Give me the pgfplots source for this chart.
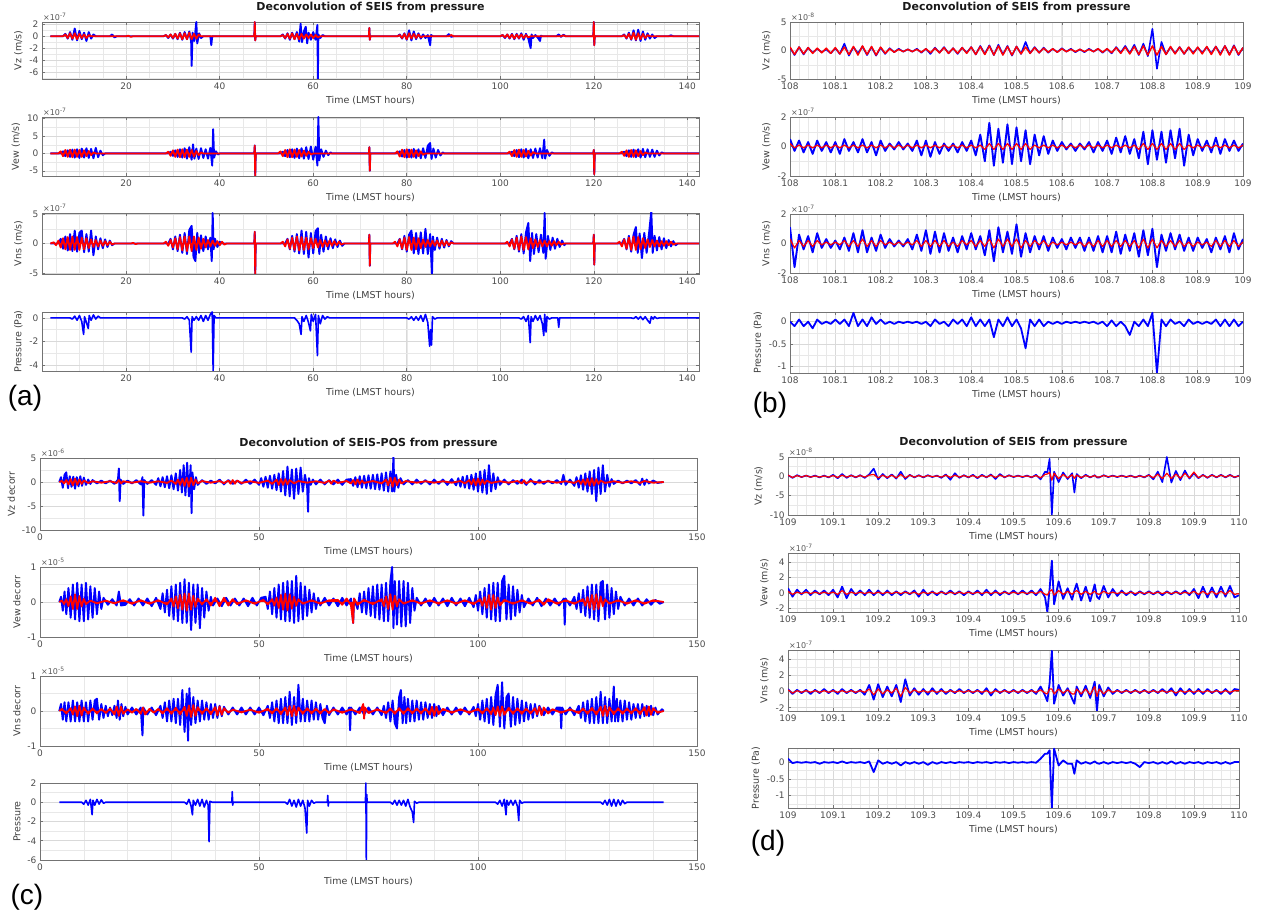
\documentclass[border=0pt]{standalone}
\usepackage{fontspec}
\setmainfont{DejaVu Sans}
\newfontfamily\lab{Liberation Sans}
\usepackage{pgfplots}
\pgfplotsset{compat=1.18}
\usepackage{pgfplotstable}

\pgfplotstableread{
t vzb vewb vnsb pb vzr vewr vnsr
108.00 0.5 0.5 1.1 0.0 0.6 0.2 0.3
108.01 -0.8 -0.3 -1.6 -0.1 -0.7 -0.1 -0.3
108.02 0.6 0.4 0.6 0.05 0.6 0.1 0.2
108.03 -0.7 -0.4 -0.4 -0.1 -0.6 -0.1 -0.2
108.04 0.5 0.3 0.5 0.0 0.5 0.1 0.2
108.05 -0.4 -0.5 -0.6 -0.15 -0.5 -0.1 -0.2
108.06 0.3 0.4 0.7 0.05 0.4 0.1 0.2
108.07 -0.3 -0.3 -0.3 -0.05 -0.4 -0.1 -0.1
108.08 0.2 0.3 0.3 0.0 0.4 0.1 0.1
108.09 -0.5 -0.4 -0.3 -0.05 -0.5 -0.1 -0.1
108.10 0.4 0.3 0.2 0.05 0.5 0.1 0.1
108.11 -0.6 -0.5 -0.4 -0.05 -0.6 -0.1 -0.1
108.12 1.2 0.5 0.4 0.05 0.6 0.1 0.2
108.13 -0.9 -0.3 -0.5 -0.1 -0.7 -0.1 -0.2
108.14 0.6 0.3 0.7 0.2 0.7 0.1 0.2
108.15 -0.5 -0.4 -0.6 -0.1 -0.8 -0.1 -0.2
108.16 0.7 0.5 0.9 0.05 0.8 0.1 0.3
108.17 -0.8 -0.4 -0.6 -0.1 -0.7 -0.1 -0.2
108.18 0.6 0.3 0.4 0.1 0.7 0.1 0.2
108.19 -0.9 -0.6 -0.5 -0.05 -0.8 -0.1 -0.2
108.20 0.5 0.4 0.6 0.05 0.6 0.1 0.2
108.21 -0.6 -0.3 -0.3 -0.05 -0.5 -0.1 -0.1
108.22 0.4 0.2 0.3 0.0 0.3 0.1 0.1
108.23 -0.3 -0.2 -0.2 -0.05 -0.3 -0.1 -0.1
108.24 0.3 0.3 0.2 0.0 0.2 0.1 0.1
108.25 -0.2 -0.2 -0.2 -0.03 -0.2 -0.1 -0.1
108.26 0.2 0.2 0.3 0.0 0.2 0.1 0.1
108.27 -0.2 -0.3 -0.4 -0.03 -0.2 -0.1 -0.1
108.28 0.3 0.4 0.6 0.0 0.2 0.1 0.2
108.29 -0.4 -0.6 -0.5 -0.05 -0.3 -0.1 -0.2
108.30 0.3 0.4 0.9 0.0 0.3 0.1 0.2
108.31 -0.6 -0.7 -0.7 -0.1 -0.4 -0.1 -0.2
108.32 0.5 0.3 0.8 0.05 0.4 0.1 0.2
108.33 -0.4 -0.5 -0.6 -0.05 -0.4 -0.1 -0.2
108.34 0.6 0.2 0.7 0.0 0.5 0.1 0.2
108.35 -0.5 -0.3 -0.5 -0.1 -0.5 -0.1 -0.2
108.36 0.4 0.2 0.4 0.05 0.4 0.1 0.1
108.37 -0.6 -0.4 -0.6 -0.05 -0.5 -0.1 -0.2
108.38 0.5 0.3 0.5 0.05 0.5 0.1 0.2
108.39 -0.4 -0.3 -0.4 -0.1 -0.5 -0.1 -0.1
108.40 0.6 0.4 0.7 0.1 0.6 0.1 0.2
108.41 -0.7 -0.6 -0.4 -0.1 -0.7 -0.1 -0.2
108.42 0.8 0.8 0.5 0.05 0.7 0.1 0.2
108.43 -0.6 -1.0 -0.8 -0.1 -0.7 -0.2 -0.2
108.44 0.9 1.6 0.9 0.05 0.8 0.2 0.3
108.45 -0.8 -1.3 -1.2 -0.35 -0.8 -0.2 -0.3
108.46 1.0 1.2 1.1 0.05 0.8 0.2 0.3
108.47 -0.7 -1.1 -0.6 -0.1 -0.8 -0.2 -0.2
108.48 0.8 1.5 0.8 0.1 0.7 0.2 0.3
108.49 -0.9 -1.2 -0.7 -0.1 -0.8 -0.2 -0.2
108.50 0.7 1.3 1.3 0.05 0.7 0.2 0.3
108.51 -0.6 -1.0 -0.9 -0.15 -0.6 -0.2 -0.3
108.52 1.5 1.1 0.7 -0.6 0.6 0.2 0.2
108.53 -0.5 -1.2 -0.6 0.05 -0.5 -0.2 -0.2
108.54 0.6 0.8 0.5 -0.1 0.5 0.1 0.2
108.55 -0.4 -0.6 -0.4 0.05 -0.4 -0.1 -0.1
108.56 0.5 0.7 0.5 -0.1 0.4 0.1 0.2
108.57 -0.4 -0.5 -0.5 0.0 -0.3 -0.1 -0.2
108.58 0.3 0.4 0.4 -0.05 0.3 0.1 0.1
108.59 -0.3 -0.3 -0.3 0.0 -0.3 -0.1 -0.1
108.60 0.4 0.3 0.3 -0.05 0.3 0.1 0.1
108.61 -0.2 -0.2 -0.4 0.0 -0.2 -0.1 -0.1
108.62 0.3 0.2 0.4 -0.03 0.2 0.1 0.1
108.63 -0.3 -0.3 -0.3 0.0 -0.2 -0.1 -0.1
108.64 0.2 0.2 0.4 -0.03 0.2 0.1 0.1
108.65 -0.3 -0.2 -0.5 0.0 -0.2 -0.1 -0.2
108.66 0.3 0.3 0.4 -0.03 0.2 0.1 0.1
108.67 -0.2 -0.4 -0.5 0.0 -0.2 -0.1 -0.2
108.68 0.3 0.3 0.5 -0.05 0.3 0.1 0.2
108.69 -0.4 -0.3 -0.6 0.0 -0.3 -0.1 -0.2
108.70 0.3 0.4 0.5 -0.1 0.3 0.1 0.2
108.71 -0.5 -0.5 -0.6 0.03 -0.4 -0.1 -0.2
108.72 0.6 0.6 0.8 -0.1 0.5 0.1 0.2
108.73 -0.4 -0.4 -0.7 0.0 -0.5 -0.1 -0.2
108.74 0.8 0.7 0.6 -0.1 0.6 0.1 0.2
108.75 -0.5 -0.5 -0.5 -0.3 -0.6 -0.1 -0.2
108.76 1.0 0.5 0.7 0.0 0.7 0.1 0.2
108.77 -0.8 -0.8 -0.9 -0.1 -0.7 -0.2 -0.3
108.78 1.2 1.0 0.9 0.05 0.8 0.2 0.3
108.79 -1.0 -1.2 -0.8 -0.1 -0.8 -0.2 -0.3
108.80 3.8 1.1 1.0 0.2 0.8 0.2 0.3
108.81 -3.2 -0.9 -1.6 -1.16 -0.8 -0.2 -0.3
108.82 1.5 1.0 0.6 0.05 0.7 0.2 0.2
108.83 -0.7 -1.1 -0.5 -0.1 -0.7 -0.2 -0.2
108.84 0.6 1.1 0.7 0.05 0.7 0.2 0.2
108.85 -0.5 -0.8 -0.4 -0.05 -0.6 -0.2 -0.2
108.86 0.6 1.2 0.6 0.0 0.6 0.2 0.2
108.87 -0.6 -1.3 -0.5 -0.1 -0.6 -0.2 -0.2
108.88 0.5 0.8 0.4 0.05 0.6 0.1 0.1
108.89 -0.4 -0.6 -0.5 -0.05 -0.6 -0.1 -0.2
108.90 0.5 0.5 0.4 0.0 0.6 0.1 0.1
108.91 -0.4 -0.3 -0.3 -0.05 -0.6 -0.1 -0.1
108.92 0.6 0.4 0.3 0.0 0.7 0.1 0.1
108.93 -0.5 -0.4 -0.6 -0.05 -0.7 -0.1 -0.2
108.94 0.7 0.6 0.4 0.05 0.7 0.1 0.2
108.95 -0.6 -0.5 -0.4 -0.1 -0.8 -0.1 -0.2
108.96 0.8 0.5 0.5 0.05 0.8 0.1 0.2
108.97 -0.7 -0.3 -0.6 -0.1 -0.8 -0.1 -0.2
108.98 0.9 0.4 0.7 0.05 0.8 0.1 0.2
108.99 -0.8 -0.3 -0.4 -0.1 -0.7 -0.1 -0.2
109.00 0.5 0.2 0.3 0.0 0.5 0.1 0.1
}\tabB

\pgfplotstableread{
t vzb vewb vnsb pb vzr vewr vnsr
109.00 0.3 0.6 0.3 0.1 0.3 0.2 0.2
109.01 -0.4 -0.5 -0.3 -0.03 -0.3 -0.2 -0.2
109.02 0.3 0.4 0.2 0.0 0.2 0.1 0.1
109.03 -0.2 -0.2 -0.2 -0.02 -0.2 -0.1 -0.1
109.04 0.2 0.4 0.2 0.0 0.2 0.1 0.1
109.05 -0.2 -0.3 -0.3 -0.02 -0.2 -0.1 -0.1
109.06 0.2 0.3 0.2 0.0 0.1 0.1 0.1
109.07 -0.3 -0.2 -0.2 -0.05 -0.2 -0.1 -0.1
109.08 0.2 0.3 0.3 0.0 0.1 0.1 0.1
109.09 -0.3 -0.3 -0.2 -0.02 -0.2 -0.1 -0.1
109.10 0.4 0.4 0.2 0.0 0.2 0.1 0.1
109.11 -0.5 -0.6 -0.3 -0.03 -0.3 -0.2 -0.1
109.12 0.6 0.8 0.3 0.02 0.3 0.3 0.1
109.13 -0.4 -0.7 -0.2 -0.03 -0.2 -0.2 -0.1
109.14 0.3 0.5 0.2 0.0 0.2 0.1 0.1
109.15 -0.3 -0.3 -0.2 -0.02 -0.2 -0.1 -0.1
109.16 0.3 0.3 0.2 0.0 0.2 0.1 0.1
109.17 -0.4 -0.3 -0.4 -0.03 -0.2 -0.1 -0.1
109.18 0.5 0.4 0.8 0.02 0.3 0.1 0.3
109.19 2.0 -0.3 -1.0 -0.3 0.5 -0.1 -0.4
109.20 -0.8 0.3 0.9 0.05 -0.4 0.1 0.3
109.21 0.6 -0.3 -0.7 -0.05 0.3 -0.1 -0.3
109.22 -0.5 0.3 0.6 0.0 -0.3 0.1 0.2
109.23 0.5 -0.3 -0.6 -0.05 0.3 -0.1 -0.2
109.24 -0.6 0.2 0.8 0.0 -0.4 0.1 0.4
109.25 1.2 -0.3 -1.3 -0.1 0.5 -0.1 -0.6
109.26 -0.7 0.2 1.5 0.0 -0.4 0.1 0.5
109.27 0.4 -0.2 -0.5 -0.05 0.3 -0.1 -0.2
109.28 -0.3 0.3 0.4 0.0 -0.2 0.1 0.2
109.29 0.3 -0.5 -0.4 -0.05 0.2 -0.2 -0.1
109.30 -0.3 0.4 0.3 0.0 -0.2 0.1 0.1
109.31 0.3 -0.3 -0.4 -0.08 0.2 -0.1 -0.1
109.32 -0.2 0.2 0.4 0.0 -0.1 0.1 0.1
109.33 0.2 -0.3 -0.3 -0.05 0.1 -0.1 -0.1
109.34 -0.4 0.2 0.3 0.0 -0.2 0.1 0.1
109.35 0.5 -0.2 -0.3 -0.03 0.3 -0.1 -0.1
109.36 -0.9 0.3 0.2 0.0 -0.3 0.1 0.1
109.37 0.8 -0.2 -0.2 -0.03 0.3 -0.1 -0.1
109.38 -0.4 0.2 0.3 0.0 -0.2 0.1 0.1
109.39 0.3 -0.3 -0.2 -0.02 0.2 -0.1 -0.1
109.40 -0.3 0.2 0.2 0.0 -0.2 0.1 0.1
109.41 0.4 -0.2 -0.2 -0.03 0.2 -0.1 -0.1
109.42 -0.5 0.3 0.2 0.0 -0.3 0.1 0.1
109.43 0.4 -0.3 -0.3 -0.02 0.2 -0.1 -0.1
109.44 -0.3 0.4 0.4 0.0 -0.2 0.1 0.1
109.45 0.5 -0.3 -0.5 -0.03 0.3 -0.1 -0.2
109.46 -0.7 0.3 0.3 0.0 -0.3 0.1 0.1
109.47 0.6 -0.3 -0.2 -0.02 0.3 -0.1 -0.1
109.48 -0.3 0.2 0.2 0.0 -0.2 0.1 0.1
109.49 0.3 -0.2 -0.2 -0.03 0.2 -0.1 -0.1
109.50 -0.2 0.3 0.2 0.0 -0.1 0.1 0.1
109.51 0.2 -0.2 -0.2 -0.02 0.1 -0.1 -0.1
109.52 -0.2 0.3 0.2 0.0 -0.1 0.1 0.1
109.53 0.2 -0.2 -0.2 -0.02 0.1 -0.1 -0.1
109.54 -0.3 0.3 0.2 0.0 -0.2 0.1 0.1
109.55 0.4 -0.3 -0.3 -0.02 0.2 -0.1 -0.1
109.56 -0.8 0.5 0.6 0.1 -0.4 0.2 0.2
109.57 1.2 -0.6 -0.5 0.25 0.5 -0.2 -0.2
109.575 1.0 -2.5 -1.2 0.25 0.6 -0.3 -0.3
109.58 4.5 0.5 1.0 0.35 1.0 0.2 0.3
109.585 -10 4.2 5 -1.37 -1.0 0.4 0.3
109.59 1.2 -1.5 -1.5 0.4 0.8 -0.3 -0.3
109.60 -1.5 1.5 0.8 -0.1 -0.6 0.3 0.3
109.61 1.0 -0.8 -0.5 0.05 0.5 -0.2 -0.2
109.62 -0.7 0.6 0.4 -0.05 -0.4 0.2 0.2
109.63 0.8 -0.9 -0.9 -0.05 0.4 -0.2 -0.3
109.635 -4.2 0.3 -1.5 -0.35 -0.5 0.1 -0.3
109.64 0.6 1.2 0.6 0.05 0.3 0.3 0.3
109.65 -0.5 -1.0 -0.6 -0.05 -0.3 -0.2 -0.3
109.66 0.4 0.8 0.7 0.0 0.2 0.2 0.3
109.67 -0.3 -1.1 -0.8 -0.05 -0.2 -0.2 -0.4
109.68 0.3 1.1 1.2 0.02 0.2 0.2 0.6
109.685 -0.3 -0.5 -2.4 -0.03 -0.2 -0.1 -0.6
109.69 -0.3 -0.8 0.8 -0.05 -0.2 -0.2 0.3
109.70 0.3 0.9 -0.6 0.0 0.2 0.2 -0.3
109.71 -0.2 -0.6 0.5 -0.05 -0.1 -0.1 0.2
109.72 0.2 0.5 -0.3 0.0 0.1 0.1 -0.1
109.73 -0.2 -0.4 0.2 -0.03 -0.1 -0.1 0.1
109.74 0.2 0.3 -0.2 0.0 0.1 0.1 -0.1
109.75 -0.2 -0.3 0.2 -0.03 -0.1 -0.1 0.1
109.76 0.2 0.2 -0.2 0.0 0.1 0.1 -0.1
109.77 -0.3 -0.3 0.2 -0.05 -0.2 -0.1 0.1
109.78 0.2 0.2 -0.2 -0.15 0.1 0.1 -0.1
109.79 -0.3 -0.2 0.2 0.0 -0.2 -0.1 0.1
109.80 0.4 0.2 -0.2 -0.03 0.3 0.1 -0.1
109.81 -0.8 -0.2 0.2 0.0 -0.4 -0.1 0.1
109.82 1.2 0.2 -0.2 -0.05 0.6 0.1 -0.1
109.83 -1.5 -0.3 0.3 0.0 -0.6 -0.1 0.1
109.84 5.0 0.2 -0.2 -0.05 0.8 0.1 -0.1
109.85 -1.6 -0.2 0.4 0.02 -0.6 -0.1 0.1
109.86 1.4 0.2 -0.5 -0.05 0.6 0.1 -0.2
109.87 -1.0 -0.2 0.4 0.0 -0.5 -0.1 0.1
109.88 1.5 0.3 -0.3 -0.05 0.8 0.1 -0.1
109.89 -0.6 -0.3 0.3 0.0 -0.4 -0.1 0.1
109.90 0.8 0.5 -0.3 -0.03 1.1 0.2 -0.1
109.91 -0.5 -0.7 0.3 0.0 -0.4 -0.2 0.1
109.92 0.4 0.8 -0.3 -0.05 0.3 0.2 -0.1
109.93 -0.4 -0.6 0.3 0.0 -0.3 -0.2 0.1
109.94 0.4 0.7 -0.2 -0.03 0.3 0.2 -0.1
109.95 -0.3 -0.6 0.2 0.0 -0.2 -0.2 0.1
109.96 0.4 0.8 -0.3 -0.05 0.3 0.2 -0.1
109.97 -0.3 -0.5 0.3 0.0 -0.2 -0.2 0.1
109.98 0.4 0.9 -0.3 -0.05 0.3 0.3 -0.1
109.99 -0.3 -0.6 0.3 0.0 -0.2 -0.2 0.1
110.00 0.2 -0.3 0.2 0.0 0.1 -0.1 0.1
}\tabD

\pgfplotsset{
 ax/.style={
   scale only axis, anchor=south west,
   axis line style={black!55, line width=0.6pt},
   tick style={black!55, line width=0.5pt},
   major tick length=3pt, minor tick length=0pt,
   tick align=inside,
   grid=both,
   major grid style={black!15, line width=0.5pt},
   minor grid style={black!9, line width=0.4pt},
   ticklabel style={font=\fontsize{9}{9}\selectfont, text=black!70},
   label style={font=\fontsize{9.5}{10}\selectfont, text=black!75},
   title style={font=\bfseries\fontsize{11}{12}\selectfont, text=black!90},
   xlabel={Time (LMST hours)},
   scaled ticks=false,
   clip mode=individual,
 },
 pa/.style={ax, width=657pt, xmin=2, xmax=142.5,
   xtick={20,40,60,80,100,120,140}, xticklabels={20,40,60,80,100,120,140},
   minor xtick={5,10,...,140}},
 pc/.style={ax, width=657pt, xmin=0, xmax=150,
   xtick={0,50,100,150}, xticklabels={0,50,100,150},
   minor xtick={10,20,30,40,60,70,80,90,110,120,130,140}},
 pb/.style={ax, width=453pt, xmin=108, xmax=109,
   xtick={108,108.1,108.2,108.3,108.4,108.5,108.6,108.7,108.8,108.9,109},
   xticklabels={108,108.1,108.2,108.3,108.4,108.5,108.6,108.7,108.8,108.9,109},
   minor xtick={108.02,108.04,...,108.99}},
 pd/.style={ax, width=451pt, xmin=109, xmax=110,
   xtick={109,109.1,109.2,109.3,109.4,109.5,109.6,109.7,109.8,109.9,110},
   xticklabels={109,109.1,109.2,109.3,109.4,109.5,109.6,109.7,109.8,109.9,110},
   minor xtick={109.02,109.04,...,109.99}},
 bl/.style={blue, fill=blue, line width=1.9pt, line join=round},
 rd/.style={red, fill=red, line width=1.8pt, line join=round},
 blt/.style={blue, line width=1.6pt, line join=round},
 rdt/.style={red, line width=1.2pt, line join=round},
}
\newcommand{\expo}[2]{\node[anchor=south west, inner sep=1pt, font=\fontsize{8}{8}\selectfont, text=black!65] at (#1.north west) {×10\raisebox{0.7ex}{\fontsize{6}{6}\selectfont #2}};}

\begin{document}
\begin{tikzpicture}
\path[use as bounding box] (0,0) rectangle (1268pt,917pt);

% ================= PANEL (a) =================
\begin{axis}[pa, name=a1, at={(42pt,838pt)}, height=57pt,
  ymin=-7.2, ymax=2.4, ytick={-6,-4,-2,0,2}, yticklabels={-6,-4,-2,0,2},
  minor ytick={-7,-5,-3,-1,1}, ylabel={Vz (m/s)},
  title={Deconvolution of SEIS from pressure}]
\addplot[bl] coordinates {(3.8,0)(6.5,0)(7,0.4)(7.5,-0.4)(8,0.7)(8.5,-0.6)(9,1.3)(9.5,-0.7)(10,0.9)(10.5,-0.5)(11,0.6)(11.5,-0.8)(12,0.7)(12.5,-0.4)(13,0.3)(13.5,0)(16.5,0)(17,0.3)(17.5,-0.2)(18,0)(28,0)(28.5,0.2)(29,-0.3)(29.5,0.3)(30,-0.4)(30.5,0.4)(31,-0.5)(31.5,0.6)(32,-0.6)(32.5,0.7)(33,-0.5)(33.5,0.8)(33.9,-0.9)(34,-5)(34.2,0.6)(34.6,-0.8)(35,2.4)(35.2,-1.2)(35.6,0.5)(36,-0.3)(36.5,0)(38,0)(38.2,-1.5)(38.4,0)(47.4,0)(47.5,2.4)(47.6,-0.7)(47.7,0)(53,0)(53.5,0.3)(54,-0.4)(54.5,0.5)(55,-0.6)(55.5,0.6)(56,-0.5)(56.5,0.7)(57,-0.9)(57.3,2.1)(57.6,-1.0)(58,0.8)(58.4,1.6)(58.7,-1.2)(59,0.6)(59.5,-0.6)(60,0.7)(60.5,-0.6)(60.9,1.9)(61,-7.2)(61.1,0.3)(61.5,-0.3)(62,0.2)(62.5,0)(71.9,0)(72,1.4)(72.1,-0.6)(72.2,0)(78,0)(78.5,0.3)(79,-0.4)(79.5,0.5)(80,-0.6)(80.5,1.0)(81,-0.7)(81.5,0.8)(82,-0.5)(82.5,0.5)(83,-0.4)(83.5,0.3)(84,-0.3)(84.5,0.2)(85,-1.5)(85.2,0.2)(85.6,0)(88.5,0)(89,0.35)(89.5,-0.1)(90,0)(100,0)(100.5,0.2)(101,-0.3)(101.5,0.3)(102,-0.4)(102.5,0.4)(103,-0.5)(103.5,0.4)(104,-0.4)(104.5,0.5)(105,-0.6)(105.5,0.4)(106,-0.4)(106.5,-2.0)(106.7,0.3)(107,-0.3)(107.5,0.2)(108,-0.2)(108.5,-0.8)(108.7,0.1)(109,0)(112,0)(112.5,0.3)(113,-0.1)(113.5,0.25)(114,0)(119.9,0)(120,2.4)(120.1,-1.5)(120.2,0)(126,0)(126.5,0.3)(127,-0.4)(127.5,0.6)(128,-0.6)(128.5,1.0)(129,-0.7)(129.5,1.1)(130,-0.8)(130.5,0.8)(131,-0.6)(131.5,0.5)(132,-0.4)(132.5,0.3)(133,-0.3)(133.5,0)(136,0)(136.5,0.15)(137,0)(142.5,0)};
\addplot[rd] coordinates {(3.8,0)(6.5,0)(7,0.3)(7.5,-0.3)(8,0.5)(8.5,-0.4)(9,0.5)(9.5,-0.5)(10,0.4)(10.5,-0.3)(11,0.3)(11.5,-0.3)(12,0.2)(12.5,0)(20,0)(20.5,0.1)(21,-0.1)(21.5,0)(28,0)(28.5,0.2)(29,-0.2)(29.5,0.3)(30,-0.3)(30.5,0.4)(31,-0.4)(31.5,0.5)(32,-0.5)(32.5,0.5)(33,-0.5)(33.5,0.6)(34,-0.5)(34.5,0.4)(35,-0.4)(35.5,0.3)(36,0)(47.4,0)(47.5,2.4)(47.6,-0.7)(47.7,0)(53,0)(53.5,0.2)(54,-0.3)(54.5,0.4)(55,-0.4)(55.5,0.5)(56,-0.5)(56.5,0.4)(57,-0.5)(57.5,0.4)(58,-0.4)(58.5,0.3)(59,-0.3)(59.5,0.3)(60,-0.3)(60.5,0.2)(61,-0.2)(61.5,0)(71.9,0)(72,1.4)(72.1,-0.6)(72.2,0)(78,0)(78.5,0.2)(79,-0.3)(79.5,0.4)(80,-0.5)(80.5,0.5)(81,-0.4)(81.5,0.4)(82,-0.3)(82.5,0.3)(83,-0.2)(83.5,0)(89,0)(89.5,0.2)(90,0)(100,0)(100.5,0.2)(101,-0.2)(101.5,0.3)(102,-0.3)(102.5,0.3)(103,-0.4)(103.5,0.3)(104,-0.3)(104.5,0.3)(105,-0.3)(105.5,0.2)(106,-0.2)(106.5,0)(113,0)(113.5,0.15)(114,0)(119.9,0)(120,2.4)(120.1,-1.5)(120.2,0)(126,0)(126.5,0.2)(127,-0.3)(127.5,0.4)(128,-0.5)(128.5,0.6)(129,-0.6)(129.5,0.5)(130,-0.5)(130.5,0.4)(131,-0.3)(131.5,0.2)(132,0)(142.5,0)};
\end{axis}

\begin{axis}[pa, name=a2, at={(42pt,741pt)}, height=59pt,
  ymin=-6.5, ymax=10.5, ytick={-5,0,5,10}, yticklabels={-5,0,5,10},
  minor ytick={-2.5,2.5,7.5}, ylabel={Vew (m/s)}]
\addplot[bl] coordinates {(3.8,0)(6,0)(6.5,0.6)(7,-0.8)(7.5,0.9)(8,-1.0)(8.5,1.1)(9,-1.2)(9.5,1.2)(10,-1.3)(10.5,1.4)(11,-1.2)(11.5,1.5)(12,-1.3)(12.5,1.3)(13,-1.4)(13.5,1.6)(14,-1.1)(14.5,0.8)(15,-0.5)(15.5,0)(29,0)(29.5,0.5)(30,-0.7)(30.5,0.9)(31,-1.0)(31.5,1.2)(32,-1.2)(32.5,1.5)(33,-1.5)(33.5,1.8)(34,-1.8)(34.3,2.6)(34.6,-1.5)(35,1.4)(35.5,-1.6)(36,1.5)(36.5,-1.3)(37,1.2)(37.5,-1.5)(38,1.6)(38.4,-3.5)(38.6,7.0)(38.8,-1.2)(39.2,0.6)(39.6,-0.3)(40,0)(47.4,0)(47.5,2.3)(47.6,-6.5)(47.7,0)(53,0)(53.5,0.5)(54,-0.8)(54.5,1.0)(55,-1.1)(55.5,1.2)(56,-1.3)(56.5,1.4)(57,-1.4)(57.5,1.5)(58,-1.5)(58.5,1.8)(59,-1.6)(59.5,2.0)(60,-1.8)(60.5,1.9)(60.9,-3.5)(61.1,10.5)(61.3,-2.0)(61.7,1.2)(62.2,-1.0)(62.7,0.8)(63.2,-0.5)(63.7,0.3)(64,0)(71.9,0)(72,1.8)(72.1,-5)(72.2,0)(78,0)(78.5,0.6)(79,-0.9)(79.5,1.0)(80,-1.2)(80.5,1.1)(81,-1.2)(81.5,1.3)(82,-1.3)(82.5,1.2)(83,-1.4)(83.5,1.5)(84,-1.3)(84.5,2.2)(85,3.0)(85.3,-1.6)(85.7,1.4)(86.2,-1.2)(86.7,1.0)(87.2,-0.6)(87.7,0.3)(88,0)(102,0)(102.5,0.5)(103,-0.8)(103.5,1.0)(104,-1.1)(104.5,1.2)(105,-1.2)(105.5,1.3)(106,-1.4)(106.5,1.2)(107,-1.3)(107.5,1.4)(108,-1.2)(108.5,1.5)(109,-1.4)(109.4,4.0)(109.6,-1.5)(110,1.0)(110.5,-0.7)(111,0.3)(111.5,0)(119.9,0)(120,1.0)(120.1,-6.0)(120.2,0)(126,0)(126.5,0.5)(127,-0.8)(127.5,0.9)(128,-1.0)(128.5,1.1)(129,-1.1)(129.5,1.2)(130,-1.2)(130.5,1.3)(131,-1.1)(131.5,1.2)(132,-1.0)(132.5,1.1)(133,-1.0)(133.5,0.8)(134,-0.6)(134.5,0.3)(135,0)(142.5,0)};
\addplot[rd] coordinates {(3.8,0)(5.5,0)(6,0.6)(6.5,-0.8)(7,1.0)(7.5,-1.0)(8,1.1)(8.5,-1.1)(9,1.1)(9.5,-1.0)(10,1.0)(10.5,-1.0)(11,0.9)(11.5,-0.8)(12,0.7)(12.5,-0.5)(13,0.3)(13.5,0)(28.5,0)(29,0.5)(29.5,-0.7)(30,0.9)(30.5,-1.0)(31,1.1)(31.5,-1.1)(32,1.2)(32.5,-1.1)(33,1.1)(33.5,-1.0)(34,1.0)(34.5,-0.9)(35,0.7)(35.5,-0.5)(36,0.3)(36.5,0)(47.4,0)(47.5,2.3)(47.6,-6.5)(47.7,0)(52.5,0)(53,0.6)(53.5,-0.8)(54,1.0)(54.5,-1.1)(55,1.2)(55.5,-1.1)(56,1.1)(56.5,-1.0)(57,1.0)(57.5,-0.9)(58,0.8)(58.5,-0.7)(59,0.5)(59.5,-0.3)(60,0)(71.9,0)(72,1.8)(72.1,-5)(72.2,0)(77.5,0)(78,0.6)(78.5,-0.9)(79,1.1)(79.5,-1.1)(80,1.2)(80.5,-1.1)(81,1.1)(81.5,-1.0)(82,0.9)(82.5,-0.8)(83,0.6)(83.5,-0.4)(84,0)(101.5,0)(102,0.5)(102.5,-0.8)(103,1.0)(103.5,-1.0)(104,1.1)(104.5,-1.0)(105,1.0)(105.5,-0.9)(106,0.8)(106.5,-0.6)(107,0.4)(107.5,0)(119.9,0)(120,1.0)(120.1,-6.0)(120.2,0)(125.5,0)(126,0.5)(126.5,-0.7)(127,0.9)(127.5,-1.0)(128,1.0)(128.5,-1.0)(129,0.9)(129.5,-0.8)(130,0.7)(130.5,-0.5)(131,0.3)(131.5,0)(142.5,0)};
\end{axis}

\begin{axis}[pa, name=a3, at={(42pt,643pt)}, height=61pt,
  ymin=-5.2, ymax=5.2, ytick={-5,0,5}, yticklabels={-5,0,5},
  minor ytick={-2.5,2.5}, ylabel={Vns (m/s)}]
\addplot[bl] coordinates {(3.8,0)(5.5,0)(6,0.8)(6.5,-0.9)(7,1.2)(7.5,-1.2)(8,1.6)(8.5,-1.3)(9,2.2)(9.5,-1.4)(10,1.8)(10.5,2.2)(11,-1.5)(11.5,1.6)(12,-1.4)(12.5,2.2)(13,-2.0)(13.5,1.2)(14,-1.0)(14.5,0.9)(15,-0.8)(15.5,0.7)(16,-0.6)(16.5,0.5)(17,-0.3)(17.5,0)(29,0)(29.5,0.8)(30,-1.0)(30.5,1.2)(31,-1.3)(31.5,1.5)(32,-1.6)(32.5,1.8)(33,-1.8)(33.5,2.3)(34,3.0)(34.4,-2.3)(34.8,-3.0)(35.2,1.8)(35.6,-1.6)(36,1.4)(36.5,-1.3)(37,1.2)(37.5,-1.0)(38,1.0)(38.3,-3.0)(38.5,5.2)(38.7,-1.0)(39,0.8)(39.5,-0.6)(40,0.3)(40.5,0)(47.4,0)(47.5,2.0)(47.6,-5.2)(47.7,0)(54,0)(54.5,0.8)(55,-1.0)(55.5,1.3)(56,-1.4)(56.5,1.6)(57,-1.7)(57.5,2.2)(58,-1.8)(58.5,2.0)(59,-2.4)(59.5,1.8)(60,-1.7)(60.5,2.1)(61,2.6)(61.3,-1.8)(61.7,1.5)(62.2,-1.4)(62.7,1.2)(63.2,-1.0)(63.7,0.9)(64.2,-0.8)(64.7,0.7)(65.2,-0.6)(65.7,0.5)(66.2,-0.4)(66.7,0)(71.9,0)(72,1.5)(72.1,-3.8)(72.2,0)(78,0)(78.5,0.8)(79,-1.0)(79.5,1.3)(80,-1.4)(80.5,1.5)(81,2.2)(81.5,-1.7)(82,1.8)(82.5,-1.8)(83,1.9)(83.5,-1.7)(84,2.5)(84.5,-1.8)(85,1.6)(85.4,-5.2)(85.6,1.2)(86,-1.1)(86.5,1.0)(87,-0.9)(87.5,0.8)(88,-0.7)(88.5,0.6)(89,-0.5)(89.5,0.4)(90,0)(102,0)(102.5,0.8)(103,-1.0)(103.5,1.3)(104,-1.4)(104.5,1.6)(105,-1.7)(105.5,1.9)(106,3.5)(106.4,-3.0)(106.8,1.8)(107.2,-1.8)(107.7,1.6)(108.2,-1.5)(108.7,1.5)(109.2,-1.6)(109.5,5.2)(109.7,-2.6)(110.2,1.3)(110.7,-1.1)(111.2,1.0)(111.7,-0.9)(112.2,0.8)(112.7,-0.6)(113.2,0.5)(113.7,-0.3)(114,0)(119.9,0)(120,1.5)(120.1,-3.6)(120.2,0)(126,0)(126.5,0.8)(127,-1.0)(127.5,1.3)(128,-1.4)(128.5,1.5)(129,2.8)(129.4,-1.6)(129.8,1.7)(130.3,-2.5)(130.8,1.8)(131.3,-1.6)(131.8,1.6)(132.3,5.5)(132.6,-1.6)(133,1.3)(133.5,-1.2)(134,1.1)(134.5,-1.0)(135,0.9)(135.5,-0.8)(136,0.6)(136.5,-0.5)(137,0.4)(137.5,-0.3)(138,0)(142.5,0)};
\addplot[rd] coordinates {(3.8,0)(4.5,0.2)(5,-0.3)(5.5,0.5)(6,-0.7)(6.5,0.9)(7,-1.0)(7.5,1.1)(8,-1.1)(8.5,1.2)(9,-1.1)(9.5,1.1)(10,-1.1)(10.5,1.0)(11,-1.0)(11.5,0.9)(12,-0.8)(12.5,0.7)(13,-0.6)(13.5,0.6)(14,-0.5)(14.5,0.5)(15,-0.4)(15.5,0.4)(16,-0.3)(16.5,0.3)(17,-0.2)(17.5,0)(21,0)(21.5,0.1)(22,-0.1)(22.5,0)(28,0)(28.5,0.3)(29,-0.4)(29.5,0.6)(30,-0.7)(30.5,0.9)(31,-1.0)(31.5,1.1)(32,-1.2)(32.5,1.2)(33,-1.3)(33.5,1.2)(34,-1.3)(34.5,1.2)(35,-1.1)(35.5,1.0)(36,-0.9)(36.5,0.8)(37,-0.7)(37.5,0.6)(38,-0.5)(38.5,0.5)(39,-0.4)(39.5,0.4)(40,-0.3)(40.5,0.3)(41,-0.2)(41.5,0)(47.4,0)(47.5,2.0)(47.6,-5.2)(47.7,0)(53,0)(53.5,0.3)(54,-0.5)(54.5,0.7)(55,-0.9)(55.5,1.0)(56,-1.1)(56.5,1.2)(57,-1.2)(57.5,1.1)(58,-1.1)(58.5,1.0)(59,-1.0)(59.5,0.9)(60,-0.8)(60.5,0.8)(61,-0.7)(61.5,0.6)(62,-0.6)(62.5,0.5)(63,-0.5)(63.5,0.5)(64,-0.4)(64.5,0.4)(65,-0.3)(65.5,0.3)(66,-0.2)(66.5,0)(71.9,0)(72,1.5)(72.1,-3.8)(72.2,0)(77,0)(77.5,0.3)(78,-0.5)(78.5,0.7)(79,-0.9)(79.5,1.0)(80,-1.1)(80.5,1.1)(81,-1.1)(81.5,1.0)(82,-1.0)(82.5,0.9)(83,-0.8)(83.5,0.7)(84,-0.6)(84.5,0.6)(85,-0.5)(85.5,0.5)(86,-0.4)(86.5,0.5)(87,-0.5)(87.5,0.5)(88,-0.4)(88.5,0.4)(89,-0.3)(89.5,0.2)(90,0)(101,0)(101.5,0.3)(102,-0.5)(102.5,0.7)(103,-0.9)(103.5,1.0)(104,-1.1)(104.5,1.2)(105,-1.1)(105.5,1.1)(106,-1.0)(106.5,0.9)(107,-0.8)(107.5,0.7)(108,-0.6)(108.5,0.6)(109,-0.5)(109.5,0.5)(110,-0.5)(110.5,0.4)(111,-0.4)(111.5,0.4)(112,-0.3)(112.5,0.3)(113,-0.2)(113.5,0)(119.9,0)(120,1.5)(120.1,-3.6)(120.2,0)(125,0)(125.5,0.3)(126,-0.5)(126.5,0.7)(127,-0.9)(127.5,1.0)(128,-1.1)(128.5,1.2)(129,-1.1)(129.5,1.1)(130,-1.0)(130.5,0.9)(131,-0.8)(131.5,0.7)(132,-0.6)(132.5,0.6)(133,-0.5)(133.5,0.5)(134,-0.5)(134.5,0.4)(135,-0.4)(135.5,0.4)(136,-0.3)(136.5,0.3)(137,-0.2)(137.5,0)(142.5,0)};
\end{axis}

\begin{axis}[pa, name=a4, at={(42pt,546pt)}, height=59pt,
  ymin=-4.5, ymax=0.5, ytick={-4,-2,0}, yticklabels={-4,-2,0},
  minor ytick={-3,-1}, ylabel={Pressure (Pa)}]
\addplot[blt] coordinates {(3.8,0)(8,0)(8.5,-0.1)(9,0.15)(9.5,-0.2)(10,0.2)(10.5,-0.3)(10.9,-1.4)(11.1,0.1)(11.5,-0.4)(11.9,-0.9)(12.1,0.2)(12.5,-0.2)(13,0.25)(13.5,-0.1)(14,0.15)(14.5,0)(32,0)(32.5,-0.1)(33,0.1)(33.5,-0.2)(33.9,-2.9)(34.1,0.1)(34.5,-0.2)(35,0.1)(35.5,-0.2)(36,0.2)(36.5,-0.3)(37,0.2)(37.5,-0.2)(38,0.3)(38.4,0.5)(38.6,-4.5)(38.8,0.2)(39.2,0)(56,0)(56.5,-0.2)(57,-0.5)(57.4,-1.4)(57.6,0.1)(58,-0.3)(58.5,0.2)(59,-0.4)(59.4,-1.1)(59.6,0.3)(60,-0.3)(60.5,0.3)(60.9,-3.2)(61.1,0.2)(61.5,-0.5)(62,0.2)(62.5,-0.1)(63,0.1)(63.5,0)(80,0)(80.5,-0.1)(81,0.1)(81.5,-0.2)(82,0.1)(82.5,-0.2)(83,0.2)(83.5,-0.3)(84,0.3)(84.5,-0.4)(84.9,-2.4)(85.1,-1.0)(85.3,-2.3)(85.5,0.1)(86,-0.1)(86.5,0)(104,0)(104.5,-0.1)(105,0.1)(105.5,-0.3)(106,0.2)(106.4,-2.1)(106.6,0.1)(107,-0.3)(107.5,0.2)(108,-0.2)(108.5,0.2)(109,-0.5)(109.3,-1.5)(109.5,0.3)(109.8,-1.2)(110,0.1)(110.5,-0.1)(111,0)(112.3,0)(112.5,-0.8)(112.7,0)(128,0)(128.5,-0.05)(129,0.1)(129.5,-0.1)(130,0.1)(130.5,-0.15)(131,0.1)(131.5,-0.2)(132,-0.45)(132.3,0.1)(132.7,-0.1)(133,0.1)(133.5,-0.05)(134,0)(142.5,0)};
\end{axis}

% ================= PANEL (b) =================
\begin{axis}[pb, name=b1, at={(790pt,838pt)}, height=57pt,
  ymin=-5, ymax=5, ytick={-5,0,5}, yticklabels={-5,0,5},
  minor ytick={-2.5,2.5}, ylabel={Vz (m/s)},
  title={Deconvolution of SEIS from pressure}]
\addplot[blt] table[x=t,y=vzb] {\tabB};
\addplot[rdt, line width=1.5pt] table[x=t,y=vzr] {\tabB};
\end{axis}
\begin{axis}[pb, name=b2, at={(790pt,741pt)}, height=59pt,
  ymin=-2, ymax=2, ytick={-2,0,2}, yticklabels={-2,0,2},
  minor ytick={-1,1}, ylabel={Vew (m/s)}]
\addplot[blt, line width=1.9pt] table[x=t,y=vewb] {\tabB};
\addplot[rdt] table[x=t,y=vewr] {\tabB};
\end{axis}
\begin{axis}[pb, name=b3, at={(790pt,644pt)}, height=59pt,
  ymin=-2, ymax=2, ytick={-2,0,2}, yticklabels={-2,0,2},
  minor ytick={-1,1}, ylabel={Vns (m/s)}]
\addplot[blt, line width=1.9pt] table[x=t,y=vnsb] {\tabB};
\addplot[rdt] table[x=t,y=vnsr] {\tabB};
\end{axis}
\begin{axis}[pb, name=b4, at={(790pt,544pt)}, height=61pt,
  ymin=-1.16, ymax=0.22, ytick={-1,-0.5,0}, yticklabels={-1,-0.5,0},
  minor ytick={-0.75,-0.25}, ylabel={Pressure (Pa)}]
\addplot[blt, line width=1.8pt] table[x=t,y=pb] {\tabB};
\end{axis}

% ================= PANEL (c) =================
\begin{axis}[pc, name=c1, at={(40pt,387pt)}, height=72pt,
  ymin=-10, ymax=5, ytick={-10,-5,0,5}, yticklabels={-10,-5,0,5},
  minor ytick={-7.5,-2.5,2.5}, ylabel={Vz decorr},
  title={Deconvolution of SEIS-POS from pressure}]
\addplot[bl] coordinates {(4.4,0)(4.8,1.0)(5.2,-1.2)(5.6,1.5)(6,2.0)(6.4,-1.3)(6.8,1.2)(7.2,-1.0)(7.6,1.1)(8,-1.4)(8.4,1.0)(8.8,-0.9)(9.2,1.2)(9.6,-0.8)(10,0.9)(10.5,-0.6)(11,0.5)(11.5,-0.4)(12,0.4)(13,-0.3)(14,0.3)(15,-0.3)(16,0.3)(17,-0.4)(17.8,0.5)(18,2.8)(18.2,-4.0)(18.4,0.5)(19,-0.4)(20,0.3)(21,-0.3)(22,0.4)(23,-0.5)(23.4,1.0)(23.6,-7.0)(23.8,0.4)(24.5,-0.4)(25.5,0.4)(26.5,-0.6)(27,0.8)(27.5,-0.9)(28,1.0)(28.5,-1.1)(29,1.2)(29.5,-1.3)(30,1.4)(30.5,-1.5)(31,1.8)(31.5,-1.8)(32,2.5)(32.4,-2.2)(32.8,3.5)(33.2,-2.8)(33.6,4.0)(34,-3.0)(34.4,3.5)(34.6,-6.5)(34.8,2.0)(35.2,-1.5)(35.6,1.0)(36,-0.6)(37,0.4)(38,-0.4)(39,0.3)(40,-0.3)(41,0.5)(42,-0.5)(43,0.4)(44,-0.4)(45,0.3)(46,-0.4)(47,0.5)(48,-0.4)(49,0.5)(50,-0.6)(50.5,0.8)(51,-1.0)(51.5,1.1)(52,-1.2)(52.5,1.3)(53,-1.4)(53.5,1.5)(54,-1.7)(54.5,1.8)(55,-2.0)(55.5,2.3)(56,-2.8)(56.5,3.2)(57,-3.0)(57.5,2.6)(58,-3.5)(58.5,2.8)(59,-2.5)(59.5,3.0)(60,-2.0)(60.5,1.5)(61,-1.2)(61.2,-6.2)(61.4,0.8)(61.8,-0.6)(62.3,0.5)(63,-0.5)(64,0.5)(65,-0.5)(66,0.4)(67,-0.5)(68,0.5)(69,-0.6)(70,0.5)(71,0.6)(71.5,-0.8)(72,1.0)(72.5,-1.1)(73,1.2)(73.5,-1.2)(74,1.3)(74.5,-1.3)(75,1.4)(75.5,-1.4)(76,1.5)(76.5,-1.5)(77,1.6)(77.5,-1.6)(78,1.8)(78.5,-1.8)(79,2.0)(79.5,-2.0)(80,2.2)(80.4,-2.0)(80.7,5.5)(80.9,-2.0)(81.3,1.5)(81.8,-1.2)(82.3,0.8)(83,-0.5)(84,0.4)(85,-0.5)(86,0.5)(87,-0.4)(88,0.4)(89,-0.5)(90,0.5)(91,-0.4)(92,0.5)(93,-0.6)(94,0.6)(95,-0.7)(95.5,0.8)(96,-1.0)(96.5,1.1)(97,-1.2)(97.5,1.3)(98,-1.4)(98.5,1.5)(99,-1.6)(99.5,1.8)(100,-2.0)(100.5,2.2)(101,-2.2)(101.5,2.5)(102,-2.5)(102.5,3.5)(103,-2.0)(103.5,1.8)(104,-1.5)(104.5,1.0)(105,-0.6)(106,0.5)(107,-0.5)(108,0.4)(109,-0.4)(110,0.5)(111,-0.6)(112,0.6)(113,-0.5)(114,0.4)(115,-0.4)(116,0.3)(117,-0.3)(118,0.4)(119,-0.4)(119.5,1.5)(120,-0.6)(121,0.5)(122,-0.8)(122.5,1.0)(123,-1.2)(123.5,1.4)(124,-1.6)(124.5,1.8)(125,-2.0)(125.5,2.2)(126,-2.5)(126.5,2.5)(127,-4.0)(127.5,3.0)(128,-2.5)(128.5,3.5)(129,-2.0)(129.5,1.5)(130,-1.0)(130.5,0.6)(131,-0.4)(132,0.3)(133,-0.3)(134,0.3)(135,-0.3)(136,0.4)(137,-0.6)(137.5,0.7)(138,-0.6)(138.5,0.5)(139,-0.3)(140,0.3)(141,-0.2)(142.4,0)};
\addplot[rd] coordinates {(4.4,0)(5,0.2)(5.5,-0.3)(6,0.4)(6.5,-0.5)(7,0.6)(7.5,-0.7)(8,0.7)(8.5,-0.6)(9,0.5)(9.5,-0.4)(10,0.3)(11,-0.2)(12,0.15)(14,-0.15)(16,0.15)(17.5,-0.2)(18,0.4)(18.5,-0.3)(19,0.15)(21,-0.15)(23,0.15)(25,-0.15)(27,0.15)(29,-0.2)(30,0.3)(31,-0.4)(31.5,0.5)(32,-0.6)(32.5,0.7)(33,-0.8)(33.5,0.9)(34,-1.0)(34.5,0.9)(35,-0.7)(35.5,0.5)(36,-0.3)(37,0.2)(39,-0.15)(41,0.2)(42,-0.25)(43,0.3)(43.5,-0.35)(44,0.4)(44.5,-0.35)(45,0.3)(46,-0.2)(48,0.15)(50,-0.2)(52,0.3)(53,-0.4)(54,0.5)(54.5,-0.6)(55,0.6)(55.5,-0.6)(56,0.6)(56.5,-0.5)(57,0.4)(58,-0.3)(59,0.2)(61,-0.15)(63,0.15)(65,-0.2)(66,0.3)(66.5,-0.35)(67,0.3)(68,-0.2)(70,0.2)(71,-0.3)(71.5,0.4)(72,-0.5)(72.5,0.5)(73,-0.4)(73.5,0.3)(74,-0.2)(76,0.2)(78,-0.3)(79,0.5)(79.5,-0.7)(80,0.9)(80.5,-1.0)(81,0.9)(81.5,-0.7)(82,0.5)(82.5,-0.3)(83.5,0.2)(86,-0.15)(88,0.15)(90,-0.15)(92,0.15)(94,-0.15)(96,0.2)(97,-0.3)(98,0.4)(98.5,-0.5)(99,0.6)(99.5,-0.7)(100,0.7)(100.5,-0.6)(101,0.5)(101.5,-0.4)(102,0.3)(103,-0.2)(105,0.15)(107,-0.15)(109,0.2)(110,-0.3)(110.5,0.35)(111,-0.3)(112,0.2)(114,-0.15)(116,0.15)(118,-0.15)(120,0.15)(122,-0.2)(123,0.3)(123.5,-0.4)(124,0.5)(124.5,-0.6)(125,0.7)(125.5,-0.8)(126,0.8)(126.5,-0.7)(127,0.6)(127.5,-0.4)(128,0.3)(129,-0.2)(131,0.15)(133,-0.15)(135,0.15)(137,-0.2)(138,0.2)(140,-0.15)(142.4,0)};
\end{axis}

\begin{axis}[pc, name=c2, at={(40pt,280pt)}, height=70pt,
  ymin=-1, ymax=1, ytick={-1,0,1}, yticklabels={-1,0,1},
  minor ytick={-0.5,0.5}, ylabel={Vew decorr}]
\addplot[bl] coordinates {(4.4,0)(4.8,0.15)(5.2,-0.25)(5.6,0.3)(6,-0.35)(6.5,0.4)(7,-0.45)(7.5,0.5)(8,-0.5)(8.5,0.55)(9,-0.55)(9.5,0.5)(10,-0.55)(10.5,0.55)(11,-0.5)(11.5,0.45)(12,-0.45)(12.5,0.4)(13,-0.35)(13.5,0.3)(14,-0.2)(14.5,0.12)(15.5,-0.08)(16.5,0.08)(17.5,-0.1)(18,0.3)(18.5,-0.1)(19.5,-0.08)(20.5,0.08)(21.5,-0.1)(22.5,0.1)(23.5,-0.1)(24.5,0.1)(25.5,-0.12)(26.5,0.12)(27.5,-0.2)(28,0.25)(28.5,-0.3)(29,0.35)(29.5,-0.4)(30,0.45)(30.5,-0.5)(31,0.5)(31.5,-0.55)(32,0.55)(32.5,-0.6)(33,0.65)(33.5,-0.6)(34,0.55)(34.5,-0.8)(35,0.5)(35.5,-0.6)(36,0.5)(36.5,-0.75)(37,0.4)(37.5,-0.45)(38,0.3)(38.5,-0.25)(39,0.15)(39.5,-0.1)(40.5,0.1)(41.5,-0.12)(42.5,0.12)(43.5,-0.1)(44.5,0.1)(45.5,-0.1)(46.5,0.1)(47.5,-0.12)(48.5,0.12)(49.5,-0.1)(50.5,0.12)(51.5,0.15)(52,-0.2)(52.5,0.3)(53,-0.35)(53.5,0.4)(54,-0.45)(54.5,0.5)(55,-0.5)(55.5,0.55)(56,-0.55)(56.5,0.6)(57,-0.55)(57.5,0.6)(58,-0.6)(58.5,0.75)(59,-0.55)(59.5,0.55)(60,-0.5)(60.5,0.45)(61,-0.4)(61.5,0.35)(62,-0.3)(62.5,0.25)(63,-0.2)(63.5,0.12)(64,-0.1)(65,0.12)(66,-0.1)(67,0.1)(68,-0.12)(69,0.12)(70,-0.1)(71,0.1)(71.5,-0.6)(71.7,0.1)(72.5,-0.2)(73,0.25)(73.5,-0.3)(74,0.3)(74.5,-0.35)(75,0.4)(75.5,-0.4)(76,0.45)(76.5,-0.45)(77,0.5)(77.5,-0.5)(78,0.5)(78.5,-0.55)(79,0.55)(79.5,-0.55)(80,0.6)(80.4,1.0)(80.7,-0.75)(81,0.6)(81.5,-0.65)(82,0.6)(82.5,-0.7)(83,0.6)(83.5,-0.7)(84,0.55)(84.5,-0.6)(85,0.4)(85.5,-0.25)(86,0.12)(87,-0.1)(88,0.1)(89,-0.12)(90,0.12)(91,-0.1)(92,0.1)(93,-0.12)(94,0.12)(95,-0.1)(96,0.1)(97,-0.12)(98,0.12)(99,-0.15)(99.5,0.2)(100,-0.25)(100.5,0.3)(101,-0.35)(101.5,0.4)(102,-0.45)(102.5,0.5)(103,-0.5)(103.5,0.55)(104,-0.55)(104.5,0.55)(105,-0.55)(105.5,0.6)(106,0.75)(106.5,-0.5)(107,0.5)(107.5,-0.5)(108,0.45)(108.5,-0.4)(109,0.35)(109.5,-0.3)(110,0.2)(110.5,-0.15)(111.5,0.1)(112.5,-0.1)(113.5,0.12)(114.5,-0.12)(115.5,0.1)(116.5,-0.1)(117.5,0.1)(118.5,-0.1)(119.6,0.1)(119.8,-0.65)(120,0.1)(121,-0.1)(122,0.15)(122.5,-0.2)(123,0.25)(123.5,-0.3)(124,0.35)(124.5,-0.4)(125,0.45)(125.5,-0.45)(126,0.5)(126.5,-0.5)(127,0.5)(127.5,-0.55)(128,0.55)(128.5,0.6)(129,-0.5)(129.5,0.5)(130,-0.45)(130.5,0.4)(131,-0.35)(131.5,0.3)(132,-0.2)(132.5,0.15)(133.5,-0.1)(134.5,0.1)(135.5,-0.1)(136.5,0.1)(137.5,-0.1)(138.5,0.08)(139.5,-0.08)(140.5,0.06)(141.5,-0.05)(142.4,0)};
\addplot[rd] coordinates {(4.4,0)(5,0.04)(5.5,-0.06)(6,0.08)(6.5,-0.12)(7,0.16)(7.5,-0.2)(8,0.22)(8.5,-0.2)(9,0.17)(9.5,-0.13)(10,0.09)(10.5,-0.06)(11.5,0.04)(13,-0.04)(15,0.04)(17,-0.04)(19,0.05)(21,-0.05)(23,0.05)(25,-0.05)(27,0.05)(29,-0.07)(30,0.1)(30.5,-0.13)(31,0.16)(31.5,-0.18)(32,0.2)(32.5,-0.22)(33,0.24)(33.5,-0.25)(34,0.24)(34.5,-0.22)(35,0.18)(35.5,-0.14)(36,0.1)(37,-0.07)(38,0.08)(39,-0.1)(40,0.12)(41,-0.12)(42,0.12)(43,-0.1)(44,0.08)(45,-0.06)(47,0.05)(49,-0.05)(51,0.06)(52,-0.07)(53,0.08)(53.5,-0.1)(54,0.13)(54.5,-0.17)(55,0.2)(55.5,-0.22)(56,0.24)(56.5,-0.24)(57,0.22)(57.5,-0.19)(58,0.15)(58.5,-0.11)(59,0.08)(60,-0.05)(62,0.05)(64,-0.05)(66,0.05)(68,0.06)(69,-0.08)(70,0.1)(71,-0.1)(71.5,-0.6)(71.7,0.1)(72.5,-0.08)(74,0.06)(76,-0.06)(78,0.08)(78.5,-0.12)(79,0.16)(79.5,-0.2)(80,0.22)(80.5,-0.22)(81,0.18)(81.5,-0.13)(82,0.08)(83,-0.05)(85,0.05)(87,-0.05)(89,0.05)(91,-0.05)(93,0.05)(95,-0.05)(97,0.05)(99,-0.06)(100.5,0.08)(101,-0.11)(101.5,0.14)(102,-0.17)(102.5,0.2)(103,-0.22)(103.5,0.2)(104,-0.17)(104.5,0.13)(105,-0.1)(106,0.06)(108,-0.05)(110,0.05)(112,-0.05)(114,0.06)(115,-0.08)(116,0.08)(118,-0.05)(120,0.05)(122,-0.05)(124,0.08)(124.5,-0.11)(125,0.14)(125.5,-0.17)(126,0.2)(126.5,-0.22)(127,0.22)(127.5,-0.2)(128,0.16)(128.5,-0.12)(129,0.08)(130,-0.05)(132,0.05)(134,-0.05)(136,0.05)(138,-0.05)(140,0.05)(142.4,0)};
\end{axis}

\begin{axis}[pc, name=c3, at={(40pt,171pt)}, height=70pt,
  ymin=-1, ymax=1, ytick={-1,0,1}, yticklabels={-1,0,1},
  minor ytick={-0.5,0.5}, ylabel={Vns decorr}]
\addplot[bl] coordinates {(4.4,0)(4.8,0.2)(5.2,-0.25)(5.6,0.25)(6,-0.3)(6.5,0.25)(7,-0.3)(7.5,0.3)(8,-0.3)(8.5,0.25)(9,-0.3)(9.5,0.3)(10,-0.3)(10.5,0.25)(11,-0.3)(11.5,0.3)(12,-0.25)(12.5,0.3)(13,0.35)(13.5,-0.25)(14,0.2)(14.5,-0.2)(15,0.15)(15.5,-0.15)(16,0.1)(16.5,-0.12)(17,0.15)(17.5,-0.2)(17.8,0.3)(18.2,-0.25)(18.6,0.2)(19,-0.15)(19.5,0.12)(20,-0.1)(21,0.1)(22,-0.1)(23,0.1)(23.4,-0.7)(23.6,0.1)(24.5,-0.1)(25.5,0.1)(26.5,-0.12)(27.5,0.15)(28,-0.2)(28.5,0.25)(29,-0.3)(29.5,0.3)(30,-0.3)(30.5,0.35)(31,-0.35)(31.5,0.35)(32,-0.4)(32.5,0.6)(33,-0.6)(33.5,0.5)(33.8,-0.85)(34.1,0.65)(34.5,-0.4)(35,0.4)(35.5,-0.35)(36,0.3)(36.5,-0.3)(37,0.3)(37.5,-0.25)(38,0.25)(38.5,-0.25)(39,0.2)(39.5,-0.2)(40,0.2)(40.5,-0.2)(41,0.15)(41.5,-0.15)(42,0.12)(43,-0.1)(44,0.1)(45,-0.1)(46,0.1)(47,-0.1)(48,0.1)(49,-0.1)(50,0.1)(51,-0.12)(52,0.15)(52.5,-0.2)(53,0.25)(53.5,-0.3)(54,0.3)(54.5,-0.35)(55,0.35)(55.5,-0.35)(56,0.4)(56.5,-0.35)(57,0.55)(57.5,-0.4)(58,0.4)(58.5,-0.35)(59,0.75)(59.5,-0.3)(60,0.35)(60.5,-0.3)(61,0.3)(61.5,-0.3)(62,0.3)(62.5,-0.25)(63,0.25)(63.5,-0.25)(64,0.2)(64.5,-0.2)(65,-0.35)(65.5,0.15)(66,-0.12)(67,0.1)(68,-0.1)(69,0.1)(70,-0.1)(70.6,0.1)(70.8,-0.55)(71,0.1)(72,-0.1)(73,0.1)(74,-0.1)(75,0.1)(76,-0.1)(77,0.1)(78,-0.12)(78.5,0.15)(79,-0.2)(79.5,0.25)(80,-0.3)(80.5,0.3)(81,-0.35)(81.5,-0.5)(82,0.4)(82.4,0.6)(82.8,-0.35)(83.2,0.4)(83.6,-0.35)(84,0.35)(84.5,-0.3)(85,0.3)(85.5,-0.3)(86,0.3)(86.5,-0.25)(87,0.25)(87.5,-0.25)(88,0.25)(88.5,-0.2)(89,0.2)(89.5,-0.2)(90,0.2)(90.5,-0.15)(91,0.15)(92,-0.12)(93,0.1)(94,-0.1)(95,0.1)(96,-0.1)(97,0.1)(98,-0.1)(99,0.12)(99.5,-0.15)(100,0.2)(100.5,-0.25)(101,0.3)(101.5,-0.3)(102,0.35)(102.5,-0.35)(103,0.4)(103.5,-0.4)(104,0.45)(104.5,0.75)(105,-0.45)(105.5,0.82)(106,-0.5)(106.5,0.4)(107,0.5)(107.5,-0.45)(108,0.4)(108.5,-0.4)(109,0.35)(109.5,-0.35)(110,0.3)(110.5,-0.3)(111,0.25)(111.5,-0.25)(112,0.2)(112.5,-0.2)(113,0.2)(113.5,-0.15)(114,0.15)(115,-0.12)(116,0.1)(117,-0.1)(118,0.1)(118.8,0.1)(119,-0.5)(119.2,0.1)(120,-0.1)(121,0.1)(122,-0.12)(123,0.15)(123.5,-0.2)(124,0.25)(124.5,-0.3)(125,0.3)(125.5,-0.35)(126,0.35)(126.5,-0.35)(127,0.4)(127.5,-0.35)(128,0.55)(128.5,-0.35)(129,0.4)(129.5,-0.35)(130,0.35)(130.5,-0.3)(131,0.7)(131.3,-0.3)(131.7,0.35)(132,-0.3)(132.5,0.3)(133,-0.3)(133.5,0.3)(134,-0.25)(134.5,0.25)(135,-0.25)(135.5,0.2)(136,-0.2)(136.5,0.2)(137,-0.2)(137.5,0.2)(138,-0.15)(138.5,0.15)(139,-0.15)(139.5,0.15)(140,-0.12)(140.5,0.1)(141,-0.1)(142,0.05)(142.4,0)};
\addplot[rd] coordinates {(4.4,0)(5,0.06)(6,-0.07)(7,0.08)(7.5,-0.1)(8,0.13)(8.5,-0.15)(9,0.15)(9.5,-0.13)(10,0.1)(11,-0.08)(12,0.07)(13,-0.07)(14,0.06)(15,-0.06)(16,0.07)(17,-0.1)(17.5,0.13)(18,-0.14)(18.5,0.12)(19,-0.08)(20,0.05)(21,-0.05)(22,0.06)(23,-0.08)(23.5,0.1)(24,-0.1)(25,0.06)(26,-0.05)(27,0.06)(28,-0.07)(29,0.08)(30,-0.08)(31,0.09)(32,-0.1)(33,0.12)(33.5,-0.14)(34,0.16)(34.5,-0.17)(35,0.17)(35.5,-0.14)(36,0.11)(37,-0.08)(38,0.08)(39,-0.09)(40,0.11)(40.5,-0.13)(41,0.13)(41.5,-0.11)(42,0.08)(43,-0.05)(44,0.04)(46,-0.04)(48,0.04)(50,-0.05)(52,0.06)(53,-0.07)(54,0.08)(55,-0.09)(56,0.1)(56.5,-0.12)(57,0.14)(57.5,-0.15)(58,0.15)(58.5,-0.13)(59,0.1)(60,-0.08)(61,0.08)(62,-0.07)(63,0.07)(64,-0.07)(65,0.06)(66,-0.06)(67,0.05)(69,-0.05)(71,0.05)(73,-0.06)(73.8,0.2)(74,-0.22)(74.2,0.1)(75,-0.06)(77,0.05)(79,-0.06)(80,0.07)(81,-0.08)(82,0.08)(83,-0.08)(84,0.08)(85,-0.07)(86,0.07)(87,-0.07)(88,0.08)(89,-0.1)(89.5,0.12)(90,-0.14)(90.5,0.12)(91,-0.09)(92,0.06)(94,-0.05)(96,0.05)(98,-0.05)(100,0.06)(101,-0.07)(102,0.08)(103,-0.09)(103.5,0.1)(104,-0.12)(104.5,0.13)(105,-0.14)(105.5,0.13)(106,-0.11)(107,0.09)(108,-0.08)(109,0.08)(110,-0.08)(111,0.07)(112,-0.07)(113,0.08)(113.5,-0.1)(114,0.12)(114.5,-0.12)(115,0.1)(116,-0.07)(117,0.05)(119,-0.05)(121,0.05)(123,-0.06)(124,0.07)(125,-0.08)(126,0.09)(127,-0.1)(128,0.12)(128.5,-0.14)(129,0.15)(129.5,-0.14)(130,0.11)(131,-0.09)(132,0.08)(133,-0.08)(134,0.07)(135,-0.07)(136,0.08)(137,-0.09)(138,0.11)(138.5,-0.13)(139,0.13)(139.5,-0.11)(140,0.08)(141,-0.05)(142.4,0)};
\end{axis}

\begin{axis}[pc, name=c4, at={(40pt,57pt)}, height=77pt,
  ymin=-6, ymax=2, ytick={-6,-4,-2,0,2}, yticklabels={-6,-4,-2,0,2},
  minor ytick={-5,-3,-1,1}, ylabel={Pressure}]
\addplot[blt] coordinates {(4.4,0)(9.5,0)(10,-0.2)(10.5,0.2)(11,-0.3)(11.5,0.3)(11.9,-1.3)(12.1,0.2)(12.5,-0.3)(13,0.3)(13.5,-0.2)(14,0.25)(14.5,-0.1)(15,0)(33,0)(33.5,-0.2)(34,0.3)(34.5,-0.4)(34.8,-1.3)(35,0.2)(35.5,-0.3)(36,0.3)(36.5,-0.4)(37,0.3)(37.5,-0.5)(38,0.2)(38.4,-0.3)(38.6,-4.1)(38.8,0.1)(39.3,0)(43.8,0)(43.9,1.1)(44,-0.3)(44.1,0)(56,0)(56.5,-0.2)(57,0.3)(57.5,-0.4)(58,0.2)(58.5,-0.5)(59,0.3)(59.5,-0.4)(60,0.2)(60.5,-0.6)(60.9,-3.2)(61.1,0.2)(61.5,-0.4)(62,0.2)(62.5,-0.1)(63,0)(65.6,0)(65.7,0.7)(65.8,-0.4)(65.9,0)(74.3,0)(74.4,2)(74.5,-6)(74.6,0.8)(74.7,0)(80,0)(80.5,-0.2)(81,0.2)(81.5,-0.3)(82,0.2)(82.5,-0.3)(83,0.2)(83.5,-0.4)(84,0.3)(84.5,-0.5)(85,-1.0)(85.3,-2.1)(85.5,0.1)(86,-0.1)(86.5,0)(104,0)(104.5,-0.2)(105,0.2)(105.5,-0.4)(106,0.3)(106.4,-1.3)(106.6,0.2)(107,-0.3)(107.5,0.2)(108,-0.3)(108.5,0.2)(109,-0.4)(109.3,-1.9)(109.5,0.2)(110,-0.1)(110.5,0)(128,0)(128.5,-0.2)(129,0.2)(129.5,-0.3)(130,0.3)(130.5,-0.4)(131,0.3)(131.5,-0.4)(132,0.25)(132.5,-0.3)(133,0.2)(133.5,-0.15)(134,0)(142.4,0)};
\end{axis}

% ================= PANEL (d) =================
\begin{axis}[pd, name=d1, at={(788pt,402pt)}, height=58pt,
  ymin=-10, ymax=5, ytick={-10,-5,0,5}, yticklabels={-10,-5,0,5},
  minor ytick={-7.5,-2.5,2.5}, ylabel={Vz (m/s)},
  title={Deconvolution of SEIS from pressure}]
\addplot[blt] table[x=t,y=vzb] {\tabD};
\addplot[rdt] table[x=t,y=vzr] {\tabD};
\end{axis}
\begin{axis}[pd, name=d2, at={(788pt,305pt)}, height=59pt,
  ymin=-2.5, ymax=5.2, ytick={-2,0,2,4}, yticklabels={-2,0,2,4},
  minor ytick={-1,1,3}, ylabel={Vew (m/s)}]
\addplot[blt, line width=1.8pt] table[x=t,y=vewb] {\tabD};
\addplot[rdt] table[x=t,y=vewr] {\tabD};
\end{axis}
\begin{axis}[pd, name=d3, at={(788pt,206pt)}, height=61pt,
  ymin=-2.4, ymax=5.1, ytick={-2,0,2,4}, yticklabels={-2,0,2,4},
  minor ytick={-1,1,3}, ylabel={Vns (m/s)}]
\addplot[blt, line width=1.8pt] table[x=t,y=vnsb] {\tabD};
\addplot[rdt] table[x=t,y=vnsr] {\tabD};
\end{axis}
\begin{axis}[pd, name=d4, at={(788pt,109pt)}, height=60pt,
  ymin=-1.37, ymax=0.42, ytick={-1,-0.5,0}, yticklabels={-1,-0.5,0},
  minor ytick={-1.25,-0.75,-0.25,0.25}, ylabel={Pressure (Pa)}]
\addplot[blt, line width=1.8pt] table[x=t,y=pb] {\tabD};
\end{axis}

% exponent labels
\expo{a1}{-7}\expo{a2}{-7}\expo{a3}{-7}
\expo{b1}{-8}\expo{b2}{-7}\expo{b3}{-7}
\expo{c1}{-6}\expo{c2}{-5}\expo{c3}{-5}
\expo{d1}{-8}\expo{d2}{-7}\expo{d3}{-7}

% panel letters
\node[font=\lab\fontsize{28}{28}\selectfont] at (25pt,519pt) {(a)};
\node[font=\lab\fontsize{28}{28}\selectfont] at (770pt,512pt) {(b)};
\node[font=\lab\fontsize{28}{28}\selectfont] at (27pt,20pt) {(c)};
\node[font=\lab\fontsize{28}{28}\selectfont] at (768pt,74pt) {(d)};
\end{tikzpicture}
\end{document}
